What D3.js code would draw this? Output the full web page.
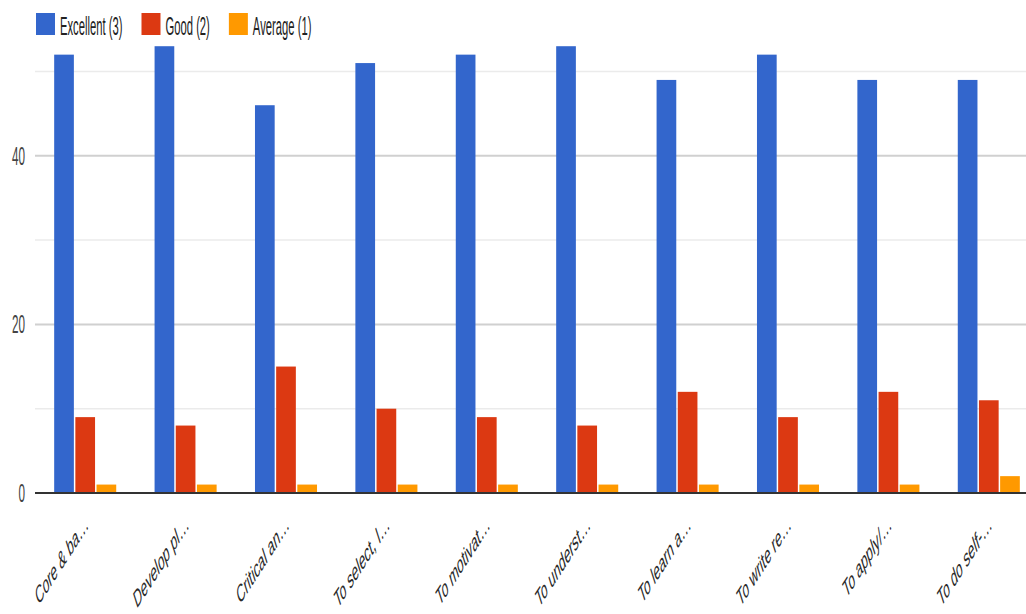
<!DOCTYPE html>
<html>
<head>
<meta charset="utf-8">
<script src="https://cdn.jsdelivr.net/npm/d3@7"></script>
<style>
  html, body { margin: 0; padding: 0; background: #fff; }
  svg { display: block; }
  text { font-family: "Liberation Sans", Arial, sans-serif; }
</style>
</head>
<body>
<svg id="chart" width="1026" height="614"></svg>
<script>
const categories = ["Core & ba…", "Develop pl…", "Critical an…", "To select, l…", "To motivat…",
                    "To underst…", "To learn a…", "To write re…", "To apply/…", "To do self-…"];
const seriesNames = ["Excellent (3)", "Good (2)", "Average (1)"];
const excellent = [52, 53, 46, 51, 52, 53, 49, 52, 49, 49];
const good      = [9, 8, 15, 10, 9, 8, 12, 9, 12, 11];
const average   = [1, 1, 1, 1, 1, 1, 1, 1, 1, 2];
const majorTicks = [0, 20, 40];
const minorTicks = [10, 30, 50];
const colors = ["#3366cc", "#dc3912", "#ff9900"];

const seriesValues = [excellent, good, average];
const svg = d3.select("#chart");
const SX = 0.45;

const x0 = d3.scaleBand().domain(categories).range([35, 1039])
  .paddingInner(0.382).paddingOuter(0.191);
const x1 = d3.scaleBand().domain(seriesNames).range([0, x0.bandwidth()]).paddingInner(0.07);
const y = d3.scaleLinear().domain([0, 50]).range([493, 71.5]);
const color = d3.scaleOrdinal().domain(seriesNames).range(colors);

// gridlines
svg.append("g").selectAll("line").data(minorTicks).join("line")
  .attr("x1", 35).attr("x2", 1026)
  .attr("y1", d => y(d)).attr("y2", d => y(d))
  .attr("stroke", "#ebebeb").attr("stroke-width", 1.5);
svg.append("g").selectAll("line").data(majorTicks.filter(d => d !== 0)).join("line")
  .attr("x1", 35).attr("x2", 1026)
  .attr("y1", d => y(d)).attr("y2", d => y(d))
  .attr("stroke", "#d0d0d0").attr("stroke-width", 2);

// bars
const groups = svg.append("g").selectAll("g").data(categories).join("g")
  .attr("transform", d => `translate(${x0(d)},0)`);
groups.selectAll("rect")
  .data((d, i) => seriesNames.map((s, j) => ({ s, v: seriesValues[j][i] })))
  .join("rect")
  .attr("x", d => x1(d.s))
  .attr("width", x1.bandwidth())
  .attr("y", d => y(d.v))
  .attr("height", d => y(0) - y(d.v))
  .attr("fill", d => color(d.s));

// baseline
svg.append("line").attr("x1", 35).attr("x2", 1026)
  .attr("y1", y(0)).attr("y2", y(0))
  .attr("stroke", "#333").attr("stroke-width", 2);

// y tick labels
svg.append("g").selectAll("text").data(majorTicks).join("text")
  .attr("transform", d => `translate(25,${y(d)}) scale(${SX},1)`)
  .attr("text-anchor", "end").attr("dominant-baseline", "central")
  .attr("font-size", 26).attr("fill", "#444")
  .text(d => d);

// x labels
svg.append("g").selectAll("text").data(categories).join("text")
  .attr("transform", d => `translate(${x0(d) + x0.bandwidth() / 2 + 4},527) scale(${SX},1) rotate(-35)`)
  .attr("text-anchor", "end")
  .attr("font-size", 25).attr("fill", "#2a2a2a")
  .text(d => d);

// legend
let lx = 36;
seriesNames.forEach((s, i) => {
  svg.append("rect").attr("x", lx).attr("y", 13).attr("width", 19).attr("height", 22)
    .attr("fill", colors[i]);
  const t = svg.append("text")
    .attr("transform", `translate(${lx + 24},26) scale(${SX},1)`)
    .attr("dominant-baseline", "central")
    .attr("font-size", 25).attr("fill", "#222")
    .text(s);
  const w = t.node().getComputedTextLength() * SX;
  lx = lx + 24 + w + 19;
});
</script>
</body>
</html>
